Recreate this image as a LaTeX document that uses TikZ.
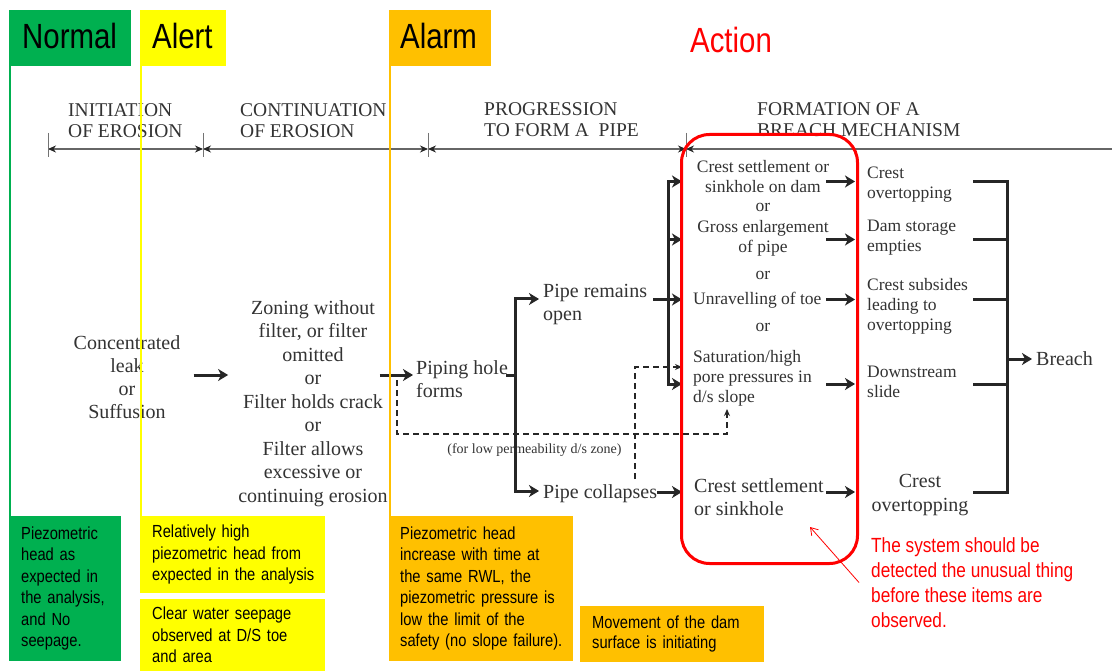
\documentclass[tikz,border=0pt]{standalone}
\usepackage{fontspec}
\setmainfont{Liberation Serif}
\newfontfamily\narrowsans[FakeStretch=0.84]{Liberation Sans}
\usepackage{xcolor}
\definecolor{normalgreen}{HTML}{00B050}
\definecolor{alertyellow}{HTML}{FFFF00}
\definecolor{alarmorange}{HTML}{FFC000}
\definecolor{inkgray}{HTML}{333333}
\usetikzlibrary{arrows.meta, positioning, calc}

\begin{document}
\begin{tikzpicture}[
  x=1pt, y=-1pt,
  every node/.style={inner sep=0pt},
  stagebox/.style={
    anchor=north west, align=left,
    text height=25pt, text depth=5pt, minimum height=56pt,
    font=\narrowsans\fontsize{35}{40}\selectfont
  },
  notebox/.style={
    anchor=north west, align=left, inner ysep=0pt,
    font=\narrowsans\fontsize{17.5}{21.5}\selectfont
  },
  warntext/.style={
    anchor=west, align=left, text=red, inner xsep=12pt,
    font=\narrowsans\fontsize{20.5}{25}\selectfont
  },
  phase/.style={anchor=north west, align=left, text=inkgray,
                font=\fontsize{19.5}{21.5}\selectfont},
  flowtext/.style={align=center, text=inkgray, font=\fontsize{20}{23}\selectfont},
  itemtext/.style={align=center, text=inkgray, font=\fontsize{17.5}{20}\selectfont},
  flowarrow/.style={-{Stealth[length=10pt, width=12pt, inset=3pt]},
                    line width=3pt, draw=black!85},
  forkarrows/.style={{Stealth[length=10pt, width=12pt, inset=3pt]}-{Stealth[length=10pt, width=12pt, inset=3pt]},
                     line width=3pt, line join=miter, draw=black!85},
  forkline/.style={line width=3pt, line join=miter, draw=black!85},
  dimline/.style={{Stealth[length=8pt, width=7pt, color=black!85]}-{Stealth[length=8pt, width=7pt, color=black!85]},
                  line width=1.1pt, draw=black!60},
  dimtick/.style={line width=1pt, draw=black!55},
  dashpath/.style={-{Stealth[length=7pt, width=6pt]}, line width=1.4pt,
                   dash pattern=on 6pt off 4pt, draw=black!85},
  levelline/.style={line width=2.5pt}
]

\fill[white] (0,0) rectangle (1112,671);
\useasboundingbox (0,0) rectangle (1112,671);

%% --- Warning levels -------------------------------------------------------
\node[stagebox, fill=normalgreen, text width=96pt, inner xsep=13pt] (normal) at (9,10) {Normal};
\node[stagebox, fill=alertyellow, text width=62pt, inner xsep=12pt] (alert)  at (140,10) {Alert};
\node[stagebox, fill=alarmorange, text width=80pt, inner xsep=11pt] (alarm)  at (389,10) {Alarm};
\node[text=red, font=\narrowsans\fontsize{35}{40}\selectfont] (action) at (731,40) {Action};

%% --- Phases along the top --------------------------------------------------
\node[phase] (initiation)   at (68,103)  {INITIATION\\OF EROSION};
\node[phase] (continuation) at (240,103) {CONTINUATION\\OF EROSION};
\node[phase] (progression)  at (484,102) {PROGRESSION\\TO FORM A\ \ PIPE};
\node[phase] (formation)    at (757,102) {FORMATION OF A\\BREACH MECHANISM};

\coordinate (d1) at (48,149);
\coordinate (d2) at (203,149);
\coordinate (d3) at (428,149);
\coordinate (d4) at (686,149);
\coordinate (d5) at (1112,149);
\draw[dimline] (d1) -- (d2);
\draw[dimline] (d2) -- (d3);
\draw[dimline] (d3) -- (d4);
\draw[dimline, arrows={{Stealth[length=8pt, width=7pt, color=black!85]}-}] (d4) -- (d5);
\draw[dimtick] ([shift={(0,-16)}]d1) -- ([shift={(0,8)}]d1);
\draw[dimtick] ([shift={(0,-16)}]d2) -- ([shift={(0,8)}]d2);
\draw[dimtick] ([shift={(0,-16)}]d3) -- ([shift={(0,8)}]d3);
\draw[dimtick] ([shift={(0,-16)}]d4) -- ([shift={(0,8)}]d4);

%% --- Initiation and continuation ------------------------------------------
\node[flowtext] (leak) at (127,377.5) {Concentrated\\leak\\or\\Suffusion};
\node[flowtext, font=\fontsize{20}{23.5}\selectfont] (zoning) at (313,403.5)
      {Zoning without\\filter, or filter\\omitted\\or\\Filter holds crack\\or\\Filter allows\\excessive or\\continuing erosion};
\node[flowtext, align=left, anchor=west] (piping) at (416,379.5) {Piping hole\\forms};

\draw[flowarrow] ([shift={(13,-2.5)}]leak.east) -- ([shift={(-10,-28.5)}]zoning.west);
\draw[flowarrow] ([shift={(-8,-28.5)}]zoning.east) -- ([shift={(-3,-4.5)}]piping.west);

%% --- Progression ------------------------------------------------------------
\node[flowtext, align=left, anchor=west] (remains)   at (543,304.5) {Pipe remains\\open};
\node[flowtext, align=left, anchor=west] (collapses) at (543,493.5) {Pipe collapses};
\node[text=inkgray, font=\fontsize{14}{16}\selectfont] (lowperm) at (534.5,450)
      {(for low permeability d/s zone)};

\coordinate (forkAtop) at (515,299);
\coordinate (forkAbot) at (515,491);
\draw[forkarrows, shorten <=4pt, shorten >=4pt]
      (forkAtop -| remains.west) -- (forkAtop) -- (forkAbot) -- (forkAbot -| collapses.west);
\draw[forkline] ([shift={(-2,-4.5)}]piping.east) -- ([shift={(0,-4.5)}]piping.east -| forkAtop);

%% --- Breach mechanism -------------------------------------------------------
\node[itemtext] (crestA) at (763,177) {Crest settlement or\\sinkhole on dam};
\node[itemtext] (orA)    at (763,207) {or};
\node[itemtext] (gross)  at (763,238) {Gross enlargement\\of pipe};
\node[itemtext] (orB)    at (763,275) {or};
\node[itemtext, anchor=west] (unravel) at (693,300) {Unravelling of toe};
\node[itemtext] (orC)    at (763,327) {or};
\node[itemtext, align=left, anchor=west] (saturation) at (693,378)
      {Saturation/high\\pore pressures in\\d/s slope};
\node[flowtext, align=left, anchor=west] (crestB) at (694,497.5) {Crest settlement\\or sinkhole};

\node[itemtext, align=left, anchor=west, inner xsep=12pt] (over1)    at (855,184.5) {Crest\\overtopping};
\node[itemtext, align=left, anchor=west, inner xsep=12pt] (empties)  at (855,238)   {Dam storage\\empties};
\node[itemtext, align=left, anchor=west, inner xsep=12pt] (subsides) at (855,306.5) {Crest subsides\\leading to\\overtopping};
\node[itemtext, align=left, anchor=west, inner xsep=12pt] (slide)    at (855,382)   {Downstream\\slide};
\node[flowtext, font=\fontsize{20}{24}\selectfont] (over2) at (920,495) {Crest\\overtopping};
\node[flowtext, anchor=west] (breach) at (1036,359) {Breach};

\coordinate (laneA) at (0,181.5);
\coordinate (laneB) at (0,239.5);
\coordinate (laneC) at (0,299.5);
\coordinate (laneD) at (0,384);
\coordinate (laneE) at (0,492);
\coordinate (forkBx) at (668,0);
\coordinate (entryx) at (682,0);
\coordinate (exitx)  at (826,0);
\coordinate (brkin)  at (973,0);
\coordinate (brkx)   at (1007,0);

\draw[forkarrows] (entryx |- laneA) -- (forkBx |- laneA) -- (forkBx |- laneD) -- (entryx |- laneD);
\draw[flowarrow] (forkBx |- laneB) -- (entryx |- laneB);
\draw[flowarrow] ([shift={(6,0)}]remains.east |- laneC) -- (entryx |- laneC);
\draw[flowarrow] (collapses.east |- laneE) -- (entryx |- laneE);

\draw[flowarrow] (exitx |- laneA) -- (over1.west |- laneA);
\draw[flowarrow] (exitx |- laneB) -- (over1.west |- laneB);
\draw[flowarrow] (exitx |- laneC) -- (over1.west |- laneC);
\draw[flowarrow] (exitx |- laneD) -- (over1.west |- laneD);
\draw[flowarrow] (exitx |- laneE) -- (over1.west |- laneE);

\draw[forkline] (brkin |- laneA) -- (brkx |- laneA) -- (brkx |- laneE) -- (brkin |- laneE);
\draw[forkline] (brkin |- laneB) -- (brkx |- laneB);
\draw[forkline] (brkin |- laneC) -- (brkx |- laneC);
\draw[forkline] (brkin |- laneD) -- (brkx |- laneD);
\draw[flowarrow, shorten >=4pt] (brkx |- breach.west) -- (breach.west);

%% --- Low permeability paths (dashed) ------------------------------------------
\coordinate (lowstart) at (397,380);
\coordinate (lowturn)  at (727,434);
\coordinate (slopein)  at (727,409);
\coordinate (collapsetap) at (635,479);
\coordinate (satin)    at (682,367);
\draw[dashpath] (lowstart) |- (lowturn) -- (slopein);
\draw[dashpath] (collapsetap) |- (satin);

%% --- Notes under each level ---------------------------------------------------
\node[notebox, fill=normalgreen, text width=88pt, inner xsep=12pt, minimum height=145pt] (normalnote) at (9,516)
      {Piezometric\\head as\\expected in\\\mbox{the analysis,}\\and No\\seepage.};
\node[notebox, fill=alertyellow, text width=161pt, inner xsep=12pt, minimum height=77pt] (alertnoteA) at (140,516)
      {Relatively high\\\mbox{piezometric head from}\\\mbox{expected in the analysis}};
\node[notebox, fill=alertyellow, text width=161pt, inner xsep=12pt, minimum height=72pt] (alertnoteB) at (140,599)
      {Clear water seepage\\\mbox{observed at D/S toe}\\and area};
\node[notebox, fill=alarmorange, text width=162pt, inner xsep=11pt, minimum height=145pt] (alarmnoteA) at (389,516)
      {Piezometric head\\\mbox{increase with time at}\\\mbox{the same RWL, the}\\\mbox{piezometric pressure is}\\\mbox{low the limit of the}\\\mbox{safety (no slope failure).}};
\node[notebox, fill=alarmorange, text width=160pt, inner xsep=12pt, minimum height=56pt,
      font=\narrowsans\fontsize{17.5}{20}\selectfont] (alarmnoteB) at (580,606)
      {\mbox{Movement of the dam}\\\mbox{surface is initiating}};

\draw[levelline, normalgreen] ([xshift=1pt]normal.south west) -- ([xshift=1pt]normalnote.north west);
\draw[levelline, alertyellow] ([xshift=1pt]alert.south west) -- ([xshift=1pt]alertnoteA.north west);
\draw[levelline, alarmorange, line width=2pt] ([xshift=0.5pt]alarm.south west) -- ([xshift=0.5pt]alarmnoteA.north west);

%% --- Action zone ------------------------------------------------------------------
\node[draw=red, line width=3pt, rounded corners=28pt, minimum width=176pt, minimum height=429pt,
      anchor=north west] (actionbox) at (680,133) {};
\node[warntext] (warning) at (859,582.5)
      {The system should be\\detected the unusual thing\\before these items are\\observed.};
\coordinate (warntip) at (810,527);
\draw[red, line width=0.8pt, -{Straight Barb[length=7pt, width=9pt]}] (warning.west) -- (warntip);

\end{tikzpicture}
\end{document}
